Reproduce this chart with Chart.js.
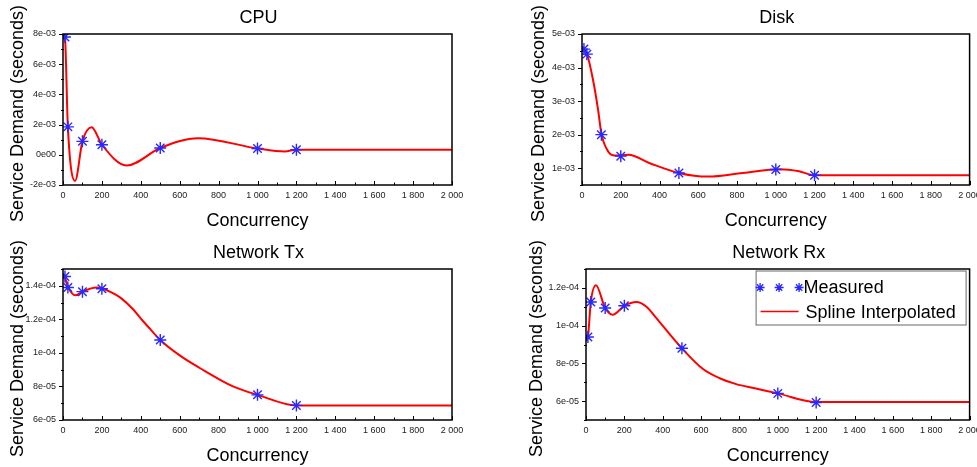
<!DOCTYPE html>
<html>
<head>
<meta charset="utf-8">
<script src="https://cdn.jsdelivr.net/npm/chart.js@4.4.1/dist/chart.umd.min.js"></script>
<style>
  html, body { margin: 0; padding: 0; background: #ffffff; }
  #wrap { position: relative; width: 977px; height: 467px; overflow: hidden; background: #ffffff; }
  #wrap canvas { position: absolute; left: 0; top: 0; }
</style>
</head>
<body>
<div id="wrap">
  <canvas id="cpu" width="977" height="467"></canvas>
  <canvas id="disk" width="977" height="467"></canvas>
  <canvas id="tx" width="977" height="467"></canvas>
  <canvas id="rx" width="977" height="467"></canvas>
</div>
<script>
// ---- measured service demand per resource ----
const concurrency = [10, 25, 100, 200, 500, 1000, 1200];

const cpuMeasured  = [7.8e-3, 1.85e-3, 0.89e-3, 0.67e-3, 0.45e-3, 0.42e-3, 0.34e-3];
const diskMeasured = [4.55e-3, 4.4e-3, 2.0e-3, 1.36e-3, 0.86e-3, 0.96e-3, 0.79e-3];
const txMeasured   = [1.455e-4, 1.39e-4, 1.365e-4, 1.382e-4, 1.077e-4, 0.75e-4, 0.687e-4];
const rxMeasured   = [0.94e-4, 1.125e-4, 1.093e-4, 1.105e-4, 0.88e-4, 0.641e-4, 0.593e-4];

// ---- spline curves (knots of the interpolated line) ----
const cpuSplineX  = [0, 10, 25, 62, 100, 147, 200, 327, 500, 694, 1000, 1140, 1200, 2000];
const cpuSplineY  = [8.1e-3, 7.8e-3, 1.85e-3, -1.73e-3, 0.89e-3, 1.82e-3, 0.67e-3, -0.71e-3, 0.45e-3, 1.10e-3, 0.42e-3, 0.22e-3, 0.34e-3, 0.34e-3];

const diskSplineX = [0, 10, 25, 58, 84, 100, 135, 170, 240, 350, 500, 650, 830, 1020, 1120, 1200, 2000];
const diskSplineY = [4.62e-3, 4.55e-3, 4.42e-3, 3.6e-3, 2.7e-3, 2.03e-3, 1.5e-3, 1.38e-3, 1.40e-3, 1.15e-3, 0.86e-3, 0.75e-3, 0.86e-3, 0.97e-3, 0.91e-3, 0.79e-3, 0.79e-3];

const txSplineX   = [0, 10, 25, 65, 100, 171, 200, 266, 300, 360, 411, 450, 500, 600, 703, 874, 1000, 1200, 2000];
const txSplineY   = [1.475e-4, 1.45e-4, 1.395e-4, 1.343e-4, 1.365e-4, 1.39e-4, 1.385e-4, 1.35e-4, 1.325e-4, 1.26e-4, 1.19e-4, 1.14e-4, 1.077e-4, 0.985e-4, 0.91e-4, 0.80e-4, 0.75e-4, 0.687e-4, 0.687e-4];

const rxSplineX   = [0, 10, 25, 52, 100, 139, 200, 263, 315, 367, 436, 500, 610, 700, 783, 880, 1000, 1200, 2000];
const rxSplineY   = [0.92e-4, 0.94e-4, 1.125e-4, 1.214e-4, 1.093e-4, 1.058e-4, 1.105e-4, 1.125e-4, 1.10e-4, 1.04e-4, 0.955e-4, 0.88e-4, 0.77e-4, 0.72e-4, 0.69e-4, 0.668e-4, 0.641e-4, 0.595e-4, 0.595e-4];

// ---- axis ticks ----
const xTickValues = [0, 200, 400, 600, 800, 1000, 1200, 1400, 1600, 1800, 2000];
const xTickLabels = ['0', '200', '400', '600', '800', '1 000', '1 200', '1 400', '1 600', '1 800', '2 000'];

const cpuTickValues  = [-2e-3, 0, 2e-3, 4e-3, 6e-3, 8e-3];
const cpuTickLabels  = ['-2e-03', '0e00', '2e-03', '4e-03', '6e-03', '8e-03'];
const diskTickValues = [1e-3, 2e-3, 3e-3, 4e-3, 5e-3];
const diskTickLabels = ['1e-03', '2e-03', '3e-03', '4e-03', '5e-03'];
const txTickValues   = [6e-5, 8e-5, 1e-4, 1.2e-4, 1.4e-4];
const txTickLabels   = ['6e-05', '8e-05', '1e-04', '1.2e-04', '1.4e-04'];
const rxTickValues   = [6e-5, 8e-5, 1e-4, 1.2e-4];
const rxTickLabels   = ['6e-05', '8e-05', '1e-04', '1.2e-04'];

// ---- texts ----
const panelTitles = ['CPU', 'Disk', 'Network Tx', 'Network Rx'];
const xAxisTitle = 'Concurrency';
const yAxisTitle = 'Service Demand (seconds)';
const legendLabels = ['Measured', 'Spline Interpolated'];

const FONT = '"Liberation Sans", Arial, Helvetica, sans-serif';
const MARK_BLUE = 'rgb(40, 40, 255)';
const LINE_RED = 'rgb(255, 0, 0)';
const CANVAS_W = 977, CANVAS_H = 467;

// frame, tick marks, titles and the optional legend
const decorPlugin = {
  id: 'decor',
  afterDatasetsDraw(chart, args, opts) {
    const ctx = chart.ctx;
    const a = chart.chartArea;
    const xs = chart.scales.x, ys = chart.scales.y;
    ctx.save();
    ctx.strokeStyle = '#000';
    // y ticks: majors point out, minors sit halfway between
    ctx.lineWidth = 1;
    ctx.beginPath();
    const yv = opts.yTicks;
    const step = yv[1] - yv[0];
    for (const v of yv) {
      const p = Math.round(ys.getPixelForValue(v)) + 0.5;
      ctx.moveTo(a.left - 4, p); ctx.lineTo(a.left, p);
    }
    for (let v = yv[0] - step / 2; v <= ys.max + 1e-12; v += step) {
      if (v < ys.min - 1e-12) continue;
      const p = Math.round(ys.getPixelForValue(v)) + 0.5;
      ctx.moveTo(a.left - 2, p); ctx.lineTo(a.left + 1, p);
    }
    // x ticks point into the plot
    for (const v of xTickValues) {
      const p = Math.round(xs.getPixelForValue(v)) + 0.5;
      ctx.moveTo(p, a.bottom); ctx.lineTo(p, a.bottom - 4);
    }
    for (let v = 100; v < 2000; v += 200) {
      const p = Math.round(xs.getPixelForValue(v)) + 0.5;
      ctx.moveTo(p, a.bottom); ctx.lineTo(p, a.bottom - 2.5);
    }
    ctx.stroke();
    // plot frame
    ctx.lineWidth = 1.5;
    ctx.strokeRect(a.left, a.top, a.right - a.left, a.bottom - a.top);

    // titles
    ctx.fillStyle = '#000';
    ctx.font = '18px ' + FONT;
    ctx.textAlign = 'center';
    ctx.textBaseline = 'alphabetic';
    const cx = (a.left + a.right) / 2;
    ctx.fillText(opts.title, cx + 1, a.top - 11.5);
    ctx.fillText(xAxisTitle, cx, a.bottom + 41);
    ctx.save();
    ctx.translate(opts.yTitleX, (a.top + a.bottom) / 2 + 4);
    ctx.rotate(-Math.PI / 2);
    ctx.textBaseline = 'middle';
    ctx.fillText(yAxisTitle, 0, 0);
    ctx.restore();

    // legend box
    if (opts.legend) {
      const L = { left: a.right - 214, top: a.top + 1.5, w: 210, h: 54 };
      ctx.fillStyle = '#fff';
      ctx.fillRect(L.left, L.top, L.w, L.h);
      ctx.strokeStyle = '#666';
      ctx.lineWidth = 1;
      ctx.strokeRect(L.left + 0.5, L.top + 0.5, L.w, L.h);
      // asterisk row
      const ry = L.top + 17;
      ctx.strokeStyle = MARK_BLUE;
      ctx.lineWidth = 1.3;
      for (const dx of [4.5, 23.5, 43.5]) {
        Chart.helpers.drawPoint(ctx, { pointStyle: 'star', radius: 4.5, rotation: 0, borderWidth: 1.3 }, L.left + dx, ry);
      }
      ctx.fillStyle = '#000';
      ctx.font = '18px ' + FONT;
      ctx.textAlign = 'left';
      ctx.textBaseline = 'alphabetic';
      ctx.fillText(legendLabels[0], L.left + 48, L.top + 22.5);
      // line row
      ctx.strokeStyle = LINE_RED;
      ctx.lineWidth = 1.5;
      ctx.beginPath();
      ctx.moveTo(L.left + 5, L.top + 41); ctx.lineTo(L.left + 43, L.top + 41);
      ctx.stroke();
      ctx.fillText(legendLabels[1], L.left + 50, L.top + 47);
    }
    ctx.restore();
  }
};

function makePanel(id, area, measured, splineX, splineY, yMin, yMax, yTicks, yLabels, title, yTitleX, legend) {
  const Y_W = 40, X_H = 30;
  const measuredPts = concurrency.map((c, i) => ({ x: c, y: measured[i] }));
  const splinePts = splineX.map((c, i) => ({ x: c, y: splineY[i] }));
  return new Chart(document.getElementById(id), {
    type: 'scatter',
    data: {
      datasets: [
        {
          label: legendLabels[0],
          data: measuredPts,
          showLine: false,
          pointStyle: 'star',
          pointRadius: 6,
          pointBorderWidth: 1.4,
          borderColor: MARK_BLUE,
          backgroundColor: MARK_BLUE,
          clip: 0
        },
        {
          label: legendLabels[1],
          data: splinePts,
          showLine: true,
          pointRadius: 0,
          borderColor: LINE_RED,
          borderWidth: 2,
          cubicInterpolationMode: 'monotone',
          clip: 0
        }
      ]
    },
    options: {
      responsive: false,
      animation: false,
      devicePixelRatio: 1,
      layout: {
        padding: {
          left: area.left - Y_W,
          top: area.top,
          right: CANVAS_W - area.right,
          bottom: CANVAS_H - area.bottom - X_H
        }
      },
      plugins: {
        legend: { display: false },
        tooltip: { enabled: false },
        decor: { title, yTicks, yTitleX, legend }
      },
      scales: {
        x: {
          type: 'linear',
          min: 0, max: 2000,
          grid: { display: false, drawTicks: false },
          border: { display: false },
          afterBuildTicks: s => { s.ticks = xTickValues.map(v => ({ value: v })); },
          afterFit: s => { s.height = X_H; s.paddingLeft = 0; s.paddingRight = 0; },
          ticks: {
            autoSkip: false, maxRotation: 0, padding: 5,
            color: '#222', font: { family: FONT, size: 9 },
            callback: (v, i) => xTickLabels[i]
          }
        },
        y: {
          type: 'linear',
          min: yMin, max: yMax,
          grid: { display: false, drawTicks: false },
          border: { display: false },
          afterBuildTicks: s => { s.ticks = yTicks.map(v => ({ value: v })); },
          afterFit: s => { s.width = Y_W; s.paddingTop = 0; s.paddingBottom = 0; },
          ticks: {
            autoSkip: false, padding: 7,
            color: '#222', font: { family: FONT, size: 9 },
            callback: (v, i) => yLabels[i]
          }
        }
      }
    },
    plugins: [decorPlugin]
  });
}

makePanel('cpu',  { left: 63,  top: 34,  right: 452, bottom: 185 }, cpuMeasured,  cpuSplineX,  cpuSplineY,  -2e-3, 8e-3,   cpuTickValues,  cpuTickLabels,  panelTitles[0], 18.5,  false);
makePanel('disk', { left: 582, top: 34,  right: 971, bottom: 185 }, diskMeasured, diskSplineX, diskSplineY, 0.5e-3, 5e-3,  diskTickValues, diskTickLabels, panelTitles[1], 539,   false);
makePanel('tx',   { left: 63,  top: 269, right: 452, bottom: 420 }, txMeasured,   txSplineX,   txSplineY,   6e-5, 1.5e-4,  txTickValues,   txTickLabels,   panelTitles[2], 18.5,  false);
makePanel('rx',   { left: 586, top: 269, right: 971, bottom: 420 }, rxMeasured,   rxSplineX,   rxSplineY,   5e-5, 1.3e-4,  rxTickValues,   rxTickLabels,   panelTitles[3], 537.5, true);
</script>
</body>
</html>
